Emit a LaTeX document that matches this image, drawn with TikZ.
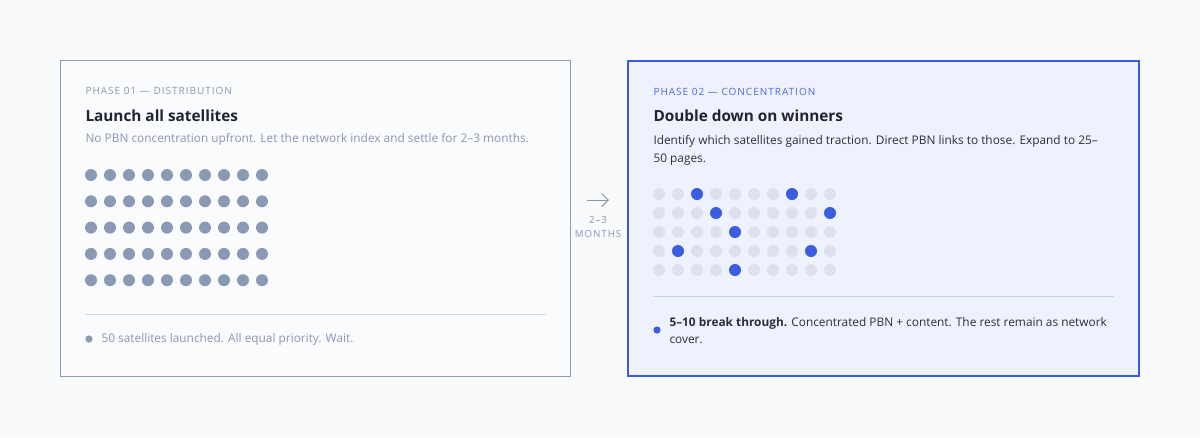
\documentclass[tikz,border=0pt]{standalone}
\usepackage{fontspec}
\setmainfont{Open Sans}
\newfontfamily\capsfont[LetterSpace=10]{Open Sans}
\usetikzlibrary{arrows.meta}

\definecolor{pagebg}{RGB}{248,250,252}
\definecolor{leftfill}{RGB}{250,251,253}
\definecolor{leftedge}{RGB}{140,155,184}
\definecolor{rightfill}{RGB}{238,242,253}
\definecolor{rightedge}{RGB}{59,91,219}
\definecolor{mutedtxt}{RGB}{138,151,176}
\definecolor{darktxt}{RGB}{31,35,51}
\definecolor{bodytxt}{RGB}{42,46,64}
\definecolor{phasetxt}{RGB}{80,102,222}
\definecolor{greydot}{RGB}{138,154,181}
\definecolor{lightdot}{RGB}{220,225,236}
\definecolor{bluedot}{RGB}{59,94,224}
\definecolor{leftrule}{RGB}{211,218,230}
\definecolor{rightrule}{RGB}{197,208,245}

\tikzset{every picture/.style={line width=0.75pt}}

\begin{document}
\begin{tikzpicture}[x=0.75pt,y=0.75pt,yscale=-1,xscale=1,
  phaselbl/.style={anchor=west,inner sep=0pt,font=\capsfont\fontsize{7.5}{9}\selectfont},
  titlelbl/.style={anchor=west,inner sep=0pt,text=darktxt,font=\bfseries\fontsize{11.5}{14}\selectfont},
  desclbl/.style={anchor=west,inner sep=0pt,align=left,font=\fontsize{8.9}{13.5}\selectfont},
  notelbl/.style={anchor=west,inner sep=0pt,align=left,font=\fontsize{8.9}{12.8}\selectfont}]
\path[fill=pagebg] (0,0) rectangle (1200,437);

%Shape: Rectangle [id:phase01]
\draw[draw=leftedge,fill=leftfill] (60.5,60.5) rectangle (570.5,376.5);
%Shape: Rectangle [id:phase02]
\draw[draw=rightedge,fill=rightfill,line width=1.5pt] (628,61) rectangle (1139,376);

%Phase 01 texts
\node[phaselbl,text=mutedtxt] (lblA) at (85,91) {PHASE 01 — DISTRIBUTION};
\node[titlelbl] (titleA) at (85,116) {Launch all satellites};
\node[desclbl,text=mutedtxt] (descA) at (85,139.5) {No PBN concentration upfront. Let the network index and settle for 2–3 months.};

%Dots: all satellites equal
\foreach \r in {0,...,4}
  \foreach \c in {0,...,9}
    \fill[greydot] (91+19*\c,175+26.3*\r) circle (6);

%Straight Lines [id:ruleA]
\draw[leftrule] (85,314.5) -- (546,314.5);
\fill[greydot] (89,339) circle (3.6);
\node[notelbl,text=mutedtxt] (noteA) at (101,339.5) {50 satellites launched. All equal priority. Wait.};

%Arrow between phases
\coordinate (arrFrom) at (587,200);
\coordinate (arrTo) at (609,200);
\draw[mutedtxt,-{Straight Barb[length=5pt,width=10pt,line width=0.75pt]}] (arrFrom) -- (arrTo);
\node[inner sep=0pt,text=mutedtxt,align=center,font=\capsfont\fontsize{7.3}{10.5}\selectfont] (gapLbl) at (598,227.5) {2–3\\MONTHS};

%Phase 02 texts
\node[phaselbl,text=phasetxt] (lblB) at (653,92) {PHASE 02 — CONCENTRATION};
\node[titlelbl] (titleB) at (653,116) {Double down on winners};
\node[desclbl,text=bodytxt,anchor=north west] (descB) at (653,134.5) {Identify which satellites gained traction. Direct PBN links to those. Expand to 25–\\50 pages.};

%Dots: winners highlighted
\foreach \r in {0,...,4}
  \foreach \c in {0,...,9}
    \fill[lightdot] (659+19*\c,194+19*\r) circle (6);
\foreach \c/\r in {2/0,7/0,3/1,9/1,4/2,1/3,8/3,4/4}
  \fill[bluedot] (659+19*\c,194+19*\r) circle (6);

%Straight Lines [id:ruleB]
\draw[rightrule] (653,296.5) -- (1114,296.5);
\fill[bluedot] (657,330) circle (3.6);
\node[notelbl,text=bodytxt,anchor=north west] (noteB) at (669,316.5) {\textbf{5–10 break through.} Concentrated PBN + content. The rest remain as network\\cover.};

\end{tikzpicture}
\end{document}
